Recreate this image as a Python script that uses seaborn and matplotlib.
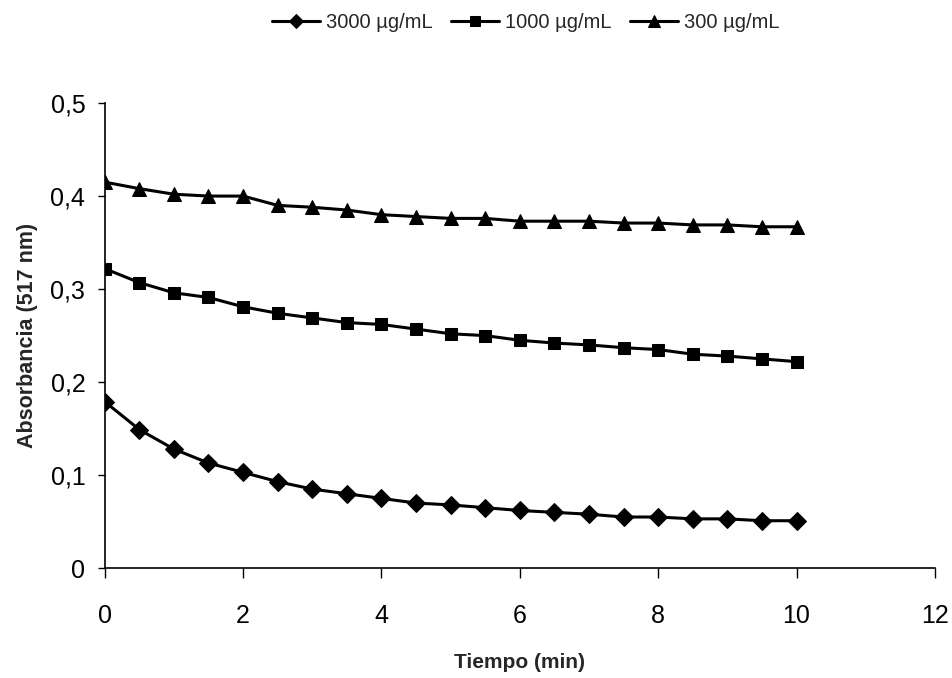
import numpy as np
import pandas as pd
import matplotlib
matplotlib.use("Agg")
import matplotlib.pyplot as plt
import seaborn as sns

tiempo = [0, 0.5, 1, 1.5, 2, 2.5, 3, 3.5, 4, 4.5, 5, 5.5, 6, 6.5, 7, 7.5, 8, 8.5, 9, 9.5, 10]
abs_3000 = [0.179, 0.149, 0.128, 0.113, 0.103, 0.093, 0.085, 0.080, 0.075, 0.070, 0.068,
            0.065, 0.062, 0.060, 0.058, 0.055, 0.055, 0.053, 0.053, 0.051, 0.051]
abs_1000 = [0.322, 0.307, 0.296, 0.291, 0.281, 0.274, 0.269, 0.264, 0.262, 0.257, 0.252,
            0.250, 0.245, 0.242, 0.240, 0.237, 0.235, 0.230, 0.228, 0.225, 0.222]
abs_300 = [0.415, 0.408, 0.402, 0.400, 0.400, 0.390, 0.388, 0.385, 0.380, 0.378, 0.376,
           0.376, 0.373, 0.373, 0.373, 0.371, 0.371, 0.369, 0.369, 0.367, 0.367]
series_names = ["3000 µg/mL", "1000 µg/mL", "300 µg/mL"]
x_ticks = [0, 2, 4, 6, 8, 10, 12]
y_ticks = [0, 0.1, 0.2, 0.3, 0.4, 0.5]
y_tick_labels = ["0", "0,1", "0,2", "0,3", "0,4", "0,5"]

df = pd.DataFrame({
    "Tiempo": tiempo * 3,
    "Abs": abs_3000 + abs_1000 + abs_300,
    "Serie": [series_names[0]] * len(tiempo) + [series_names[1]] * len(tiempo) + [series_names[2]] * len(tiempo),
})

sns.set_style("white")
plt.rcParams["font.family"] = ["Liberation Sans", "DejaVu Sans"]

fig = plt.figure(figsize=(9.52, 6.78), dpi=100)
ax = fig.add_axes([0.110, 0.162, 0.872, 0.686])

markers = {series_names[0]: "D", series_names[1]: "s", series_names[2]: "^"}
sizes_m = {series_names[0]: 9, series_names[1]: 9, series_names[2]: 10}
for name in series_names:
    sub = df[df["Serie"] == name]
    sns.lineplot(data=sub, x="Tiempo", y="Abs", ax=ax, color="black", linewidth=2.2,
                 marker=markers[name], markersize=sizes_m[name], markeredgecolor="black",
                 markerfacecolor="black", label=name)

ax.set_xlim(0, 12)
ax.set_ylim(0, 0.5)
ax.set_xticks(x_ticks)
ax.set_xticklabels([str(t) for t in x_ticks])
ax.set_yticks(y_ticks)
ax.set_yticklabels(y_tick_labels)
ax.tick_params(axis="both", labelsize=18, width=1, direction="out",
               bottom=True, left=True, colors="black")
ax.tick_params(axis="x", length=7, pad=19)
ax.tick_params(axis="y", length=5, pad=9)
for s in ["top", "right"]:
    ax.spines[s].set_visible(False)
for s in ["left", "bottom"]:
    ax.spines[s].set_color("black")
    ax.spines[s].set_linewidth(1.2)

ax.set_xlabel("Tiempo (min)", fontsize=15, fontweight="bold", labelpad=18)
ax.set_ylabel("Absorbancia (517 nm)", fontsize=15.5, fontweight="bold", labelpad=9)

ax.legend(loc="center", bbox_to_anchor=(0.507, 1.174), ncol=3, frameon=False,
          fontsize=14.5, handlelength=2.4, columnspacing=0.9, handletextpad=0.3,
          markerscale=0.8)

fig.savefig("out.png", dpi=100)
